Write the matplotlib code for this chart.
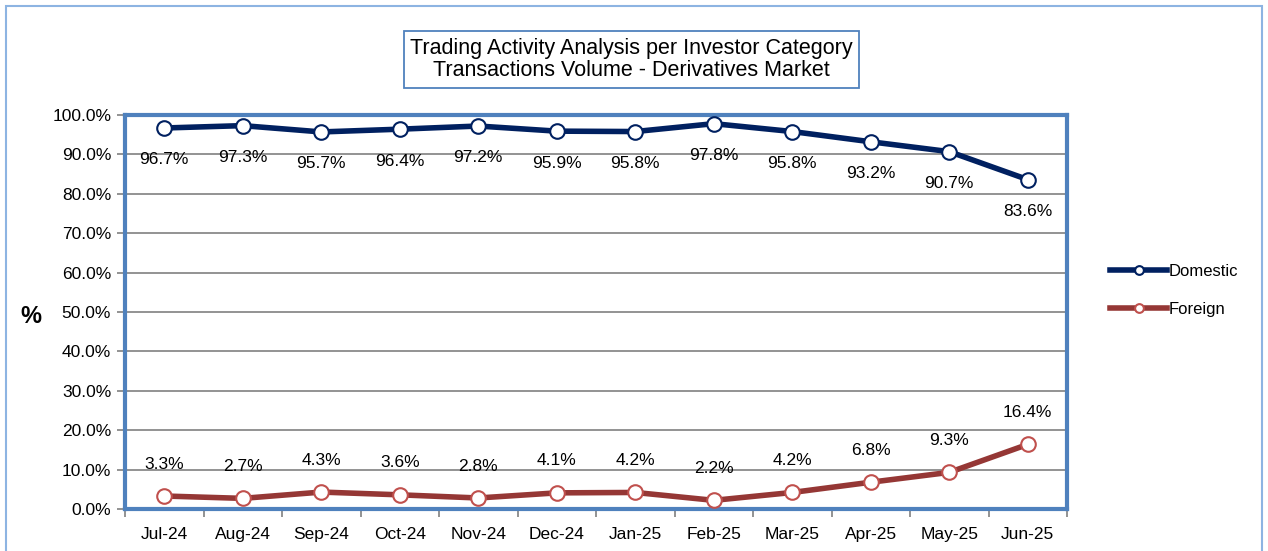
import matplotlib.pyplot as plt
from matplotlib.patches import Rectangle
from matplotlib.ticker import FixedLocator, FuncFormatter

plt.rcParams['font.family'] = ['Liberation Sans', 'DejaVu Sans']

months = ['Jul-24', 'Aug-24', 'Sep-24', 'Oct-24', 'Nov-24', 'Dec-24',
          'Jan-25', 'Feb-25', 'Mar-25', 'Apr-25', 'May-25', 'Jun-25']
domestic = [96.7, 97.3, 95.7, 96.4, 97.2, 95.9, 95.8, 97.8, 95.8, 93.2, 90.7, 83.6]
foreign = [3.3, 2.7, 4.3, 3.6, 2.8, 4.1, 4.2, 2.2, 4.2, 6.8, 9.3, 16.4]

fig = plt.figure(figsize=(12.68, 5.51), dpi=100)
ax = fig.add_axes([0.0986, 0.0762, 0.7429, 0.7151])

x = list(range(len(months)))
ax.plot(x, domestic, color='#002060', lw=4, marker='o', ms=10.5,
        mfc='white', mec='#002060', mew=1.5, label='Domestic', zorder=3)
ax.plot(x, foreign, color='#953735', lw=4, marker='o', ms=10.5,
        mfc='white', mec='#C0504D', mew=1.5, label='Foreign', zorder=3)

for i in x:
    ax.annotate(f'{domestic[i]:.1f}%', (i, domestic[i]), xytext=(0, -23),
                textcoords='offset points', ha='center', va='center', fontsize=12.5)
    ax.annotate(f'{foreign[i]:.1f}%', (i, foreign[i]), xytext=(0, 23),
                textcoords='offset points', ha='center', va='center', fontsize=12.5)

ax.set_xlim(-0.5, len(months) - 0.5)
ax.set_ylim(0, 100)
ax.set_yticks(range(0, 101, 10))
ax.yaxis.set_major_formatter(FuncFormatter(lambda v, p: f'{v:.1f}%'))
ax.set_xticks(x)
ax.set_xticklabels(months)
ax.xaxis.set_minor_locator(FixedLocator([i - 0.5 for i in range(len(months) + 1)]))
ax.tick_params(axis='x', which='major', length=0, labelsize=12.5, pad=13)
ax.tick_params(axis='x', which='minor', length=6, color='#808080', width=1.2)
ax.tick_params(axis='y', length=6, color='#808080', width=1.2, labelsize=12.5, pad=4)
ax.grid(axis='y', color='#808080', lw=1.2)
ax.set_axisbelow(True)
for s in ax.spines.values():
    s.set_color('#4F81BD')
    s.set_linewidth(3)

fig.text(0.024, 0.425, '%', fontsize=17, fontweight='bold', ha='center', va='center')

fig.text(0.498, 0.892, 'Trading Activity Analysis per Investor Category\nTransactions Volume - Derivatives Market',
         ha='center', va='center', fontsize=15.5, linespacing=1.1,
         bbox=dict(boxstyle='square,pad=0.3', fc='white', ec='#4F81BD', lw=1.3))

ax.legend(loc='center left', bbox_to_anchor=(1.03, 0.555), frameon=False,
          fontsize=12, handlelength=3.4, labelspacing=1.4, handletextpad=0.1,
          markerscale=0.6)

fig.patches.append(Rectangle((0.005, -0.01), 0.99, 1.0, transform=fig.transFigure,
                             fill=False, ec='#8DB4E2', lw=1.5))

fig.savefig('out.png', dpi=100)
